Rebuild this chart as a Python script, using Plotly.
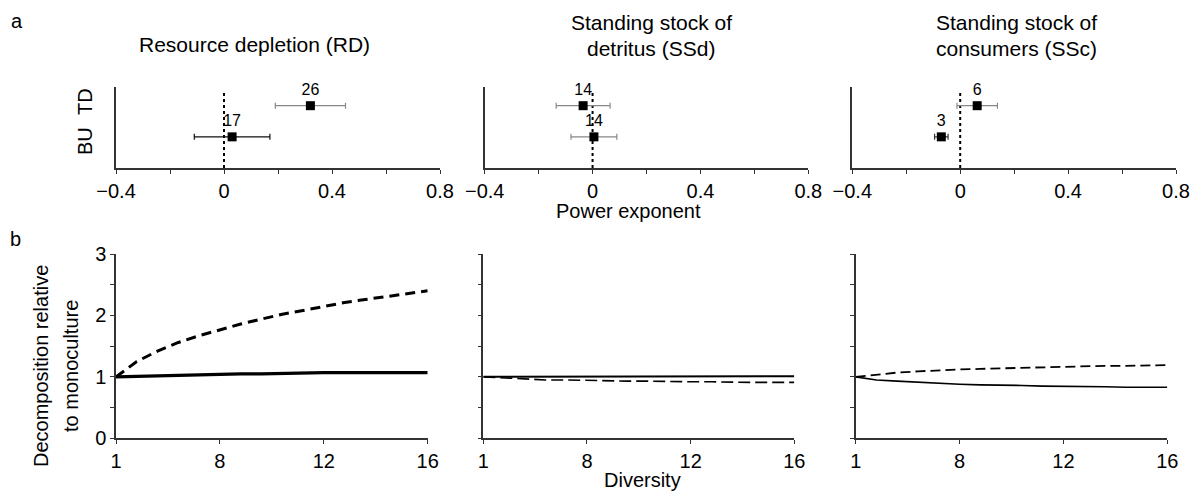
import plotly.graph_objects as go

W, H = 1199, 502
OFF = 8  # page body margin in the browser
FONT = "Liberation Sans, Arial, Helvetica, sans-serif"

# ---------------- data ----------------
rows = ["BU", "TD"]
exponent_ticks = [-0.4, -0.2, 0, 0.2, 0.4, 0.6, 0.8]
exponent_tick_labels = ["\u22120.4", "", "0", "", "0.4", "", "0.8"]

# panel a: power exponent (BU, TD), error, number of studies
rd_exponent = [0.03, 0.32]
rd_error = [0.14, 0.13]
rd_n = [17, 26]
ssd_exponent = [0.005, -0.035]
ssd_error = [0.085, 0.10]
ssd_n = [14, 14]
ssc_exponent = [-0.07, 0.063]
ssc_error = [0.025, 0.075]
ssc_n = [3, 6]

# panel b: decomposition relative to monoculture vs diversity
diversity = list(range(1, 17))
diversity_tick_labels = ["1", "8", "12", "16"]
decomp_ticks = [0, 0.5, 1, 1.5, 2, 2.5, 3]
decomp_tick_labels = ["0", "", "1", "", "2", "", "3"]

rd_bu = [1.00, 1.01, 1.02, 1.03, 1.04, 1.05, 1.05, 1.05, 1.06, 1.07, 1.07, 1.07, 1.07, 1.07, 1.07, 1.07]
rd_td = [1.00, 1.25, 1.42, 1.56, 1.67, 1.77, 1.86, 1.94, 2.02, 2.08, 2.15, 2.21, 2.26, 2.31, 2.36, 2.40]
ssd_bu = [1.00, 1.00, 1.01, 1.01, 1.01, 1.01, 1.01, 1.01, 1.01, 1.01, 1.01, 1.01, 1.01, 1.01, 1.01, 1.01]
ssd_td = [1.00, 0.98, 0.96, 0.95, 0.95, 0.94, 0.93, 0.93, 0.93, 0.92, 0.92, 0.92, 0.91, 0.91, 0.91, 0.91]
ssc_bu = [1.00, 0.95, 0.93, 0.91, 0.90, 0.88, 0.87, 0.87, 0.86, 0.85, 0.85, 0.84, 0.84, 0.83, 0.83, 0.83]
ssc_td = [1.00, 1.04, 1.07, 1.09, 1.11, 1.12, 1.13, 1.14, 1.15, 1.16, 1.16, 1.17, 1.18, 1.18, 1.19, 1.19]

panel_titles = [["Resource depletion (RD)"],
                ["Standing stock of", "detritus (SSd)"],
                ["Standing stock of", "consumers (SSc)"]]

# ---------------- layout helpers ----------------
FW, FH = W - OFF, H - OFF

def fx(p):
    return (p - OFF) / FW

def fy(p):
    return 1 - (p - OFF) / FH

top_x_px = [(116, 440), (484.7, 808.3), (852.3, 1176)]
top_y_px = (87, 168)
bot_x_px = [(116, 427.7), (483.3, 794.3), (855.7, 1167.3)]
bot_y_px = (254, 438.3)

AX_COLOR = "#333333"
fig = go.Figure()
layout = dict(
    width=FW, height=FH, autosize=False,
    margin=dict(l=0, r=0, t=0, b=0, pad=0, autoexpand=False),
    paper_bgcolor="white", plot_bgcolor="white", showlegend=False,
    font=dict(family=FONT, size=20, color="black"),
)

top_data = [(rd_exponent, rd_error, rd_n), (ssd_exponent, ssd_error, ssd_n), (ssc_exponent, ssc_error, ssc_n)]
err_colors = [["#111111", "#888888"], ["#888888", "#888888"], ["#333333", "#888888"]]
shapes = []
for i in range(3):
    k = i + 1
    xa = "xaxis" if k == 1 else f"xaxis{k}"
    ya = "yaxis" if k == 1 else f"yaxis{k}"
    xr = "x" if k == 1 else f"x{k}"
    yr = "y" if k == 1 else f"y{k}"
    layout[xa] = dict(
        domain=[fx(top_x_px[i][0]), fx(top_x_px[i][1])], anchor=yr,
        range=[-0.4, 0.8], tickvals=exponent_ticks, ticktext=exponent_tick_labels,
        ticks="outside", ticklen=4, tickcolor=AX_COLOR, showline=True, linecolor=AX_COLOR,
        linewidth=1.5, showgrid=False, zeroline=False, tickfont=dict(size=20),
        automargin=False,
    )
    layout[ya] = dict(
        domain=[fy(top_y_px[1]), fy(top_y_px[0])], anchor=xr,
        range=[0, 2.6], showticklabels=False, ticks="", showline=True,
        linecolor=AX_COLOR, linewidth=1.5, showgrid=False, zeroline=False,
        automargin=False,
    )
    shapes.append(dict(type="line", xref=xr, yref=yr, x0=0, x1=0, y0=0, y1=2.45,
                       line=dict(color="black", width=2, dash="dot"), layer="below"))
    exps, errs, ns = top_data[i]
    for j, row in enumerate(rows):
        fig.add_trace(go.Scatter(
            x=[exps[j]], y=[j + 1], xaxis=xr, yaxis=yr, mode="markers+text",
            text=[str(ns[j])], textposition="top center",
            textfont=dict(size=16, family=FONT, color="black"),
            marker=dict(symbol="square", size=9, color="black"),
            error_x=dict(type="data", array=[errs[j]], color=err_colors[i][j], thickness=1.2, width=3),
            name=row, cliponaxis=False,
        ))

bot_data = [(rd_bu, rd_td), (ssd_bu, ssd_td), (ssc_bu, ssc_td)]
line_w = [(3.2, 3.0), (2.0, 1.6), (1.6, 1.8)]
dashes = ["10px,6px", "12px,5px", "10px,5px"]
for i in range(3):
    k = i + 4
    xa, ya, xr, yr = f"xaxis{k}", f"yaxis{k}", f"x{k}", f"y{k}"
    layout[xa] = dict(
        domain=[fx(bot_x_px[i][0]), fx(bot_x_px[i][1])], anchor=yr,
        range=[1, 16],
        tickvals=[1 + n * 15 / (len(diversity_tick_labels) - 1) for n in range(len(diversity_tick_labels))],
        ticktext=diversity_tick_labels,
        ticks="outside", ticklen=4, tickcolor=AX_COLOR, showline=True, linecolor=AX_COLOR,
        linewidth=1.5, showgrid=False, zeroline=False, tickfont=dict(size=20),
        automargin=False,
    )
    layout[ya] = dict(
        domain=[fy(bot_y_px[1]), fy(bot_y_px[0])], anchor=xr,
        range=[0, 3], tickvals=decomp_ticks,
        ticktext=decomp_tick_labels if i == 0 else [""] * len(decomp_ticks),
        ticks="outside", ticklen=4, tickcolor=AX_COLOR, showline=True, linecolor=AX_COLOR,
        linewidth=1.5, showgrid=False, zeroline=False, tickfont=dict(size=20),
        automargin=False,
    )
    bu, td = bot_data[i]
    fig.add_trace(go.Scatter(x=diversity, y=bu, xaxis=xr, yaxis=yr, mode="lines",
                             line=dict(color="black", width=line_w[i][0]), name="BU"))
    fig.add_trace(go.Scatter(x=diversity, y=td, xaxis=xr, yaxis=yr, mode="lines",
                             line=dict(color="black", width=line_w[i][1], dash=dashes[i]), name="TD"))

annotations = []

def ann(text, x, y, size=20, angle=0, xanchor="center"):
    annotations.append(dict(text=text, x=fx(x), y=fy(y), xref="paper", yref="paper",
                            showarrow=False, font=dict(size=size, family=FONT, color="black"),
                            textangle=angle, xanchor=xanchor, yanchor="middle", borderpad=0))

ann("a", 17, 21)
ann("b", 15, 239)
ann(panel_titles[0][0], 254, 44, size=21)
ann(panel_titles[1][0], 651, 22, size=21)
ann(panel_titles[1][1], 651, 49, size=21)
ann(panel_titles[2][0], 1016, 22, size=21)
ann(panel_titles[2][1], 1016, 49, size=21)
ann("TD", 85, 102, angle=-90)
ann("BU", 85, 141, angle=-90)
ann("Power exponent", 628, 211)
ann("Diversity", 642, 480)
ann("Decomposition relative", 41, 366, angle=-90)
ann("to monoculture", 71, 366, angle=-90)

layout["annotations"] = annotations
layout["shapes"] = shapes
fig.update_layout(**layout)
fig.write_html("out.html")
